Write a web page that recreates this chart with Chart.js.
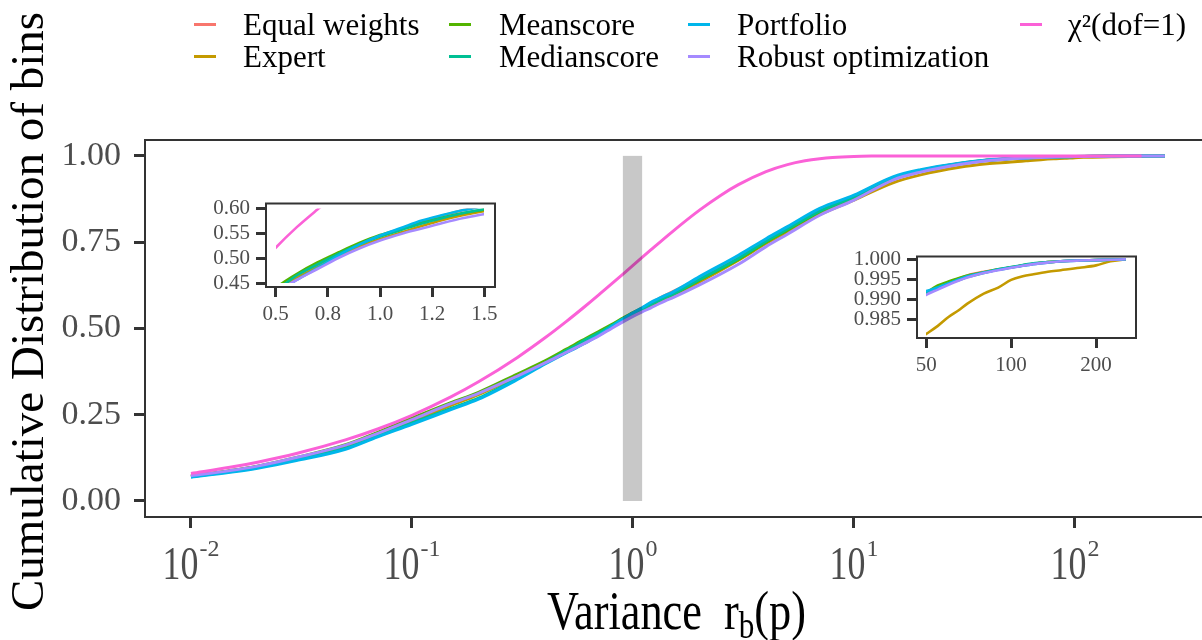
<!DOCTYPE html>
<html>
<head>
<meta charset="utf-8">
<script src="https://cdn.jsdelivr.net/npm/chart.js@4.4.1/dist/chart.umd.min.js"></script>
<style>
html,body{margin:0;padding:0;background:#fff;}
#wrap{position:relative;width:1202px;height:640px;overflow:hidden;font-family:"Liberation Serif","Times New Roman",serif;}
#wrap canvas{position:absolute;}
.key{position:absolute;height:3px;width:22px;}
.lab{position:absolute;font-size:31px;line-height:31px;color:#000;white-space:nowrap;}
</style>
</head>
<body>
<div id="wrap">
<canvas id="main" width="1202" height="640" style="left:0;top:0;width:1202px;height:640px"></canvas>
<canvas id="inset1" width="310" height="140" style="left:195px;top:185px;width:310px;height:140px"></canvas>
<canvas id="inset2" width="310" height="140" style="left:840px;top:238px;width:310px;height:140px"></canvas>
<div id="legend"></div>
</div>
<script>
// ---------------- DATA ----------------
const xGrid = [0.01,0.015,0.02,0.03,0.05,0.07,0.1,0.15,0.2,0.3,0.4,0.5,0.55,0.6,0.7,0.8,0.9,1.0,1.1,1.2,1.3,1.4,1.5,2,3,4,5,7,10,15,20,30,40,50,55,60,65,70,80,90,100,110,120,135,150,175,200,225,255];
const equalWeights = [0.072,0.087,0.100,0.124,0.160,0.195,0.235,0.280,0.311,0.363,0.401,0.434,0.449,0.463,0.486,0.507,0.527,0.544,0.558,0.573,0.585,0.596,0.605,0.645,0.707,0.755,0.790,0.843,0.884,0.937,0.958,0.978,0.988,0.9915,0.9932,0.9943,0.9952,0.9960,0.9969,0.9975,0.9980,0.9985,0.9989,0.9993,0.9995,0.9997,0.9998,0.9999,1.0];
const expert = [0.071,0.086,0.099,0.123,0.158,0.193,0.232,0.277,0.308,0.360,0.399,0.432,0.446,0.460,0.481,0.503,0.522,0.538,0.551,0.564,0.576,0.586,0.594,0.635,0.698,0.746,0.780,0.830,0.872,0.922,0.945,0.967,0.977,0.9815,0.9835,0.9857,0.9873,0.9890,0.9915,0.9930,0.9949,0.9958,0.9963,0.9969,0.9973,0.9979,0.9985,0.9995,1.0];
const meanscore = [0.073,0.088,0.101,0.126,0.163,0.199,0.240,0.285,0.315,0.368,0.406,0.440,0.455,0.468,0.491,0.511,0.530,0.546,0.558,0.571,0.581,0.590,0.597,0.640,0.700,0.750,0.785,0.838,0.880,0.934,0.956,0.977,0.987,0.9917,0.9935,0.9945,0.9953,0.9960,0.9968,0.9975,0.9980,0.9985,0.9989,0.9993,0.9995,0.9997,0.9998,0.9999,1.0];
const medianscore = [0.070,0.085,0.097,0.120,0.153,0.188,0.226,0.268,0.298,0.355,0.400,0.436,0.450,0.465,0.487,0.508,0.527,0.543,0.556,0.569,0.580,0.590,0.598,0.642,0.703,0.753,0.788,0.840,0.881,0.935,0.957,0.977,0.987,0.9916,0.9930,0.9940,0.9948,0.9956,0.9966,0.9975,0.9981,0.9986,0.9990,0.9993,0.9995,0.9997,0.9998,0.9999,1.0];
const portfolio = [0.069,0.083,0.095,0.117,0.150,0.186,0.222,0.265,0.295,0.352,0.397,0.430,0.443,0.456,0.480,0.505,0.527,0.545,0.560,0.575,0.586,0.596,0.604,0.650,0.712,0.760,0.795,0.848,0.886,0.939,0.960,0.979,0.988,0.9921,0.9930,0.9940,0.9950,0.9958,0.9967,0.9974,0.9979,0.9984,0.9988,0.9992,0.9995,0.9997,0.9998,0.9999,1.0];
const robustOptimization = [0.073,0.088,0.101,0.126,0.162,0.196,0.236,0.282,0.312,0.362,0.400,0.431,0.444,0.456,0.478,0.500,0.519,0.535,0.548,0.559,0.570,0.580,0.588,0.626,0.686,0.737,0.773,0.828,0.872,0.930,0.953,0.975,0.986,0.9912,0.9925,0.9937,0.9947,0.9955,0.9966,0.9973,0.9979,0.9984,0.9988,0.9992,0.9995,0.9997,0.9998,0.9999,1.0];
const chiX = [0.01,0.015,0.02,0.03,0.05,0.07,0.1,0.15,0.2,0.3,0.4,0.5,0.6,0.7,0.71,0.8,1,1.2,1.5,2,2.5,3,4,5,6,7,8,10,12,15,20,50,100,200];
const chiY = [0.0797,0.0975,0.1125,0.1375,0.1769,0.2086,0.2482,0.3015,0.3453,0.4161,0.4729,0.5205,0.5614,0.5972,0.6006,0.6289,0.6827,0.7266,0.7793,0.8427,0.8862,0.9167,0.9545,0.9747,0.9857,0.9918,0.9953,0.9984,0.9995,0.9999,1.0,1.0,1.0,1.0];

const seriesNames = ['Equal weights','Expert','Meanscore','Medianscore','Portfolio','Robust optimization','χ²(dof=1)'];
const seriesColors = ['#F8766D','#C49A00','#53B400','#00C094','#00B6EB','#A58AFF','#FB61D7'];

const yTickValues = [0,0.25,0.5,0.75,1];
const yTickLabels = ['0.00','0.25','0.50','0.75','1.00'];
const xTickValues = [0.01,0.1,1,10,100];
const xTickBase = '10';
const xTickExponents = ['-2','-1','0','1','2'];
const inset1XTicks = [0.5,0.75,1,1.25,1.5];
const inset1XLabels = ['0.5','0.8','1.0','1.2','1.5'];
const inset1YTicks = [0.45,0.5,0.55,0.6];
const inset1YLabels = ['0.45','0.50','0.55','0.60'];
const inset2XTicks = [50,100,200];
const inset2XLabels = ['50','100','200'];
const inset2YTicks = [0.985,0.99,0.995,1.0];
const inset2YLabels = ['0.985','0.990','0.995','1.000'];
const bandX = [0.9, 1.1];
const bandY = [0, 1];
const xTitleParts = ['Variance', 'r', 'b', '(p)'];
const yTitle = 'Cumulative Distribution of bins';

// ---------------- HELPERS ----------------
const FONT = '"Liberation Serif","Times New Roman",serif';
Chart.defaults.font.family = FONT;
const seriesValues = [equalWeights, expert, meanscore, medianscore, portfolio, robustOptimization];

function buildDatasets(width, includeChi, clip) {
  const ds = seriesValues.map((vals, i) => ({
    label: seriesNames[i],
    data: xGrid.map((x, j) => ({x: x, y: vals[j]})),
    borderColor: seriesColors[i], backgroundColor: seriesColors[i],
    borderWidth: width, pointRadius: 0, fill: false,
    cubicInterpolationMode: 'monotone', order: 6 - i, clip: clip
  }));
  if (includeChi) {
    ds.push({
      label: seriesNames[6],
      data: chiX.map((x, j) => ({x: x, y: chiY[j]})),
      borderColor: seriesColors[6], backgroundColor: seriesColors[6],
      borderWidth: width, pointRadius: 0, fill: false,
      cubicInterpolationMode: 'monotone', order: 0, clip: clip
    });
  }
  return ds;
}

function axis(type, min, max, tickVals, tickLabels, opts) {
  return {
    type: type, min: min, max: max,
    afterBuildTicks: s => { s.ticks = tickVals.map(v => ({value: v})); },
    afterFit: s => { if (opts.width !== undefined) s.width = opts.width; if (opts.height !== undefined) s.height = opts.height; },
    ticks: {
      display: opts.showLabels !== false,
      autoSkip: false, maxRotation: 0, minRotation: 0,
      color: '#4D4D4D', font: {size: opts.fontSize, family: FONT},
      padding: opts.padding,
      callback: (v, i) => tickLabels[i]
    },
    grid: {display: true, drawOnChartArea: false, drawTicks: true, tickLength: opts.tl, tickWidth: 3, tickColor: '#333333'},
    border: {display: true, color: '#333333', width: 2}
  };
}

const framePlugin = {
  id: 'frame',
  afterDraw(chart) {
    const {ctx, chartArea: ca} = chart;
    ctx.save();
    ctx.strokeStyle = '#333333'; ctx.lineWidth = 2;
    ctx.beginPath();
    ctx.moveTo(ca.left - 1, ca.top);
    ctx.lineTo(ca.right + (chart.canvas.id === 'main' ? 2 : 0), ca.top);
    if (chart.canvas.id !== 'main') { ctx.lineTo(ca.right, ca.bottom); }
    ctx.stroke();
    ctx.restore();
  }
};

const bandPlugin = {
  id: 'band',
  afterDatasetsDraw(chart) {
    const {ctx, scales: {x, y}} = chart;
    const x0 = x.getPixelForValue(bandX[0]), x1 = x.getPixelForValue(bandX[1]);
    const y0 = y.getPixelForValue(bandY[1]), y1 = y.getPixelForValue(bandY[0]);
    ctx.save();
    ctx.fillStyle = 'rgba(0,0,0,0.215)';
    ctx.fillRect(x0, y0, x1 - x0, y1 - y0);
    ctx.restore();
  }
};

const mainTextPlugin = {
  id: 'mainText',
  afterDraw(chart) {
    const {ctx, chartArea: ca, scales: {x}} = chart;
    ctx.save();
    ctx.textBaseline = 'alphabetic'; ctx.textAlign = 'left';
    // x tick labels 10^k
    ctx.fillStyle = '#4D4D4D';
    const SX = 0.78;
    const baseFont = '46px ' + FONT, supFont = '24px ' + FONT;
    const baseY = ca.bottom + 62;
    xTickValues.forEach((v, i) => {
      const px = x.getPixelForValue(v);
      ctx.font = baseFont; const wb = ctx.measureText(xTickBase).width * SX;
      ctx.font = supFont; const we = ctx.measureText(xTickExponents[i]).width;
      const gap = 1;
      const x0 = px - (wb + gap + we) / 2;
      ctx.save(); ctx.translate(x0, baseY); ctx.scale(SX, 1); ctx.font = baseFont; ctx.fillText(xTickBase, 0, 0); ctx.restore();
      ctx.font = supFont; ctx.fillText(xTickExponents[i], x0 + wb + gap, baseY - 23);
    });
    // x title: Variance  r_b(p)
    ctx.fillStyle = '#000000';
    const TS = 0.82;
    const big = '54px ' + FONT, small = '38px ' + FONT;
    const parts = [
      {t: xTitleParts[0] + '  ', f: big, dy: 0},
      {t: xTitleParts[1], f: big, dy: 0},
      {t: xTitleParts[2], f: small, dy: 9},
      {t: xTitleParts[3], f: big, dy: 0}
    ];
    let total = 0;
    parts.forEach(p => { ctx.font = p.f; p.w = ctx.measureText(p.t).width * TS; total += p.w; });
    let cx = (ca.left + ca.right) / 2 + 3 - total / 2;
    const ty = ca.bottom + 112;
    parts.forEach(p => {
      ctx.save(); ctx.translate(cx, ty + p.dy); ctx.scale(TS, 1); ctx.font = p.f; ctx.fillText(p.t, 0, 0); ctx.restore();
      cx += p.w;
    });
    // y title
    ctx.save();
    ctx.translate(43, (ca.top + ca.bottom) / 2 - 17);
    ctx.rotate(-Math.PI / 2);
    ctx.textAlign = 'center';
    ctx.font = '47px ' + FONT;
    ctx.fillText(yTitle, 0, 0);
    ctx.restore();
    ctx.restore();
  }
};

// ---------------- MAIN CHART ----------------
new Chart(document.getElementById('main'), {
  type: 'line',
  data: {datasets: buildDatasets(3, true, 3)},
  options: {
    responsive: false, animation: false, devicePixelRatio: 1,
    layout: {padding: {top: 140, left: 0, right: 0, bottom: 0}},
    plugins: {legend: {display: false}, tooltip: {enabled: false}},
    scales: {
      x: axis('logarithmic', Math.pow(10, -2.208), Math.pow(10, 2.5747), xTickValues, xTickValues.map(String),
        {height: 123, showLabels: false, tl: 11, padding: 4, fontSize: 30}),
      y: axis('linear', -0.0464, 1.046, yTickValues, yTickLabels,
        {width: 145, tl: 11, padding: 13, fontSize: 34})
    }
  },
  plugins: [bandPlugin, framePlugin, mainTextPlugin]
});

// ---------------- INSET 1 ----------------
new Chart(document.getElementById('inset1'), {
  type: 'line',
  data: {datasets: buildDatasets(2.6, true, {left: -10, right: -11, top: -5, bottom: -4})},
  options: {
    responsive: false, animation: false, devicePixelRatio: 1,
    layout: {padding: {top: 10, left: 0, right: 10, bottom: 0}},
    plugins: {legend: {display: false}, tooltip: {enabled: false}},
    scales: {
      x: axis('linear', 0.4536, 1.551, inset1XTicks, inset1XLabels, {height: 38, tl: 10, padding: 5, fontSize: 21}),
      y: axis('linear', 0.442, 0.609, inset1YTicks, inset1YLabels, {width: 71, tl: 10, padding: 6, fontSize: 21})
    }
  },
  plugins: [framePlugin]
});

// ---------------- INSET 2 ----------------
new Chart(document.getElementById('inset2'), {
  type: 'line',
  data: {datasets: buildDatasets(2.6, false, {left: -9, right: 0, top: 0, bottom: 0})},
  options: {
    responsive: false, animation: false, devicePixelRatio: 1,
    layout: {padding: {top: 10, left: 0, right: 14, bottom: 0}},
    plugins: {legend: {display: false}, tooltip: {enabled: false}},
    scales: {
      x: axis('logarithmic', 46.4, 277, inset2XTicks, inset2XLabels, {height: 40, tl: 10, padding: 5, fontSize: 21}),
      y: axis('linear', 0.9805, 1.00067, inset2YTicks, inset2YLabels, {width: 77, tl: 10, padding: 6, fontSize: 21})
    }
  },
  plugins: [framePlugin]
});

// ---------------- LEGEND ----------------
(function () {
  const lg = document.getElementById('legend');
  const colKeyX = [194, 449, 688, 1020];
  const colTextX = [243, 499, 737, 1068];
  const rowKeyY = [24, 56];
  const rowTextTop = [9, 41];
  seriesNames.forEach((n, i) => {
    const c = Math.floor(i / 2), r = i % 2;
    const k = document.createElement('div');
    k.className = 'key';
    k.style.left = colKeyX[c] + 'px';
    k.style.top = (rowKeyY[r] - 1.5) + 'px';
    k.style.background = seriesColors[i];
    lg.appendChild(k);
    const t = document.createElement('div');
    t.className = 'lab';
    t.style.left = colTextX[c] + 'px';
    t.style.top = rowTextTop[r] + 'px';
    t.textContent = n;
    lg.appendChild(t);
  });
})();
</script>
</body>
</html>
